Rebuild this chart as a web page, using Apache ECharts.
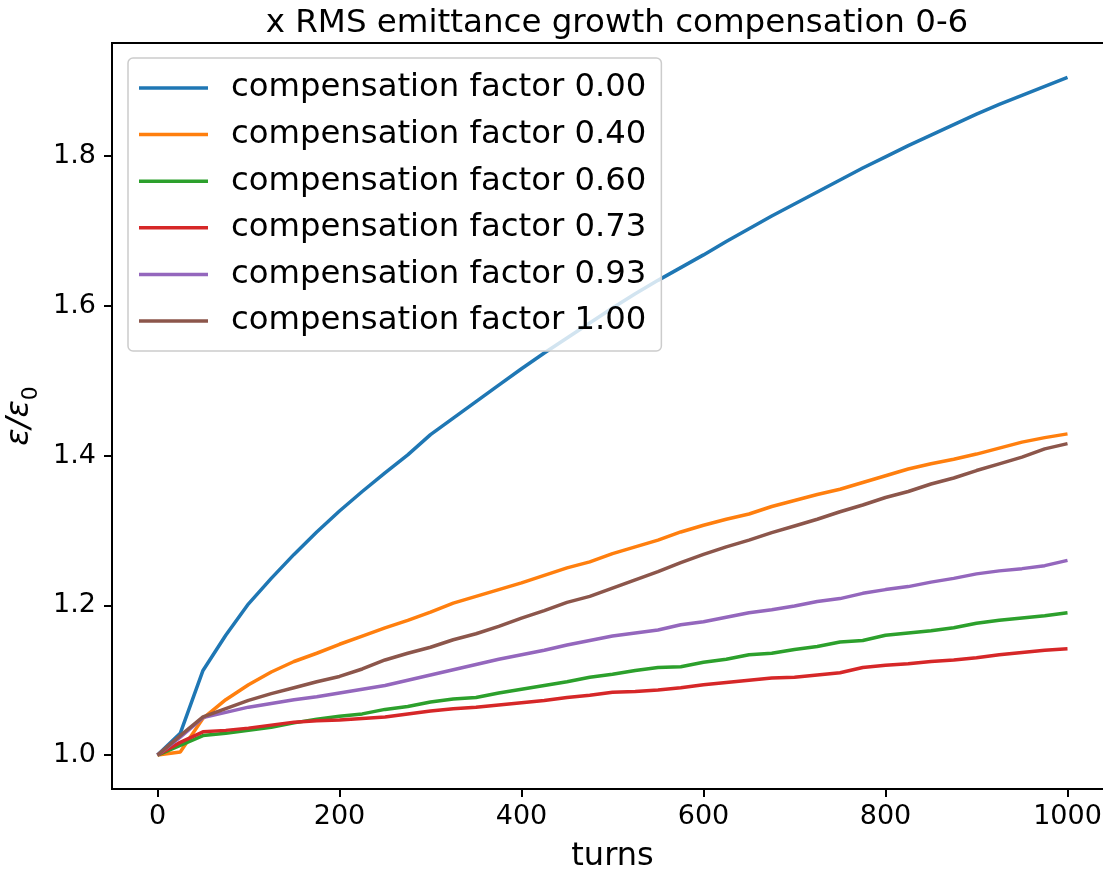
<!DOCTYPE html>
<html>
<head>
<meta charset="utf-8">
<script src="https://cdn.jsdelivr.net/npm/echarts@6/dist/echarts.min.js"></script>
<style>
html,body{margin:0;padding:0;background:#fff;}
#chart{width:1103px;height:870px;}
</style>
</head>
<body>
<div id="chart"></div>
<script>
const turns = [0,25,50,75,100,125,150,175,200,225,250,275,300,325,350,375,400,425,450,475,500,525,550,575,600,625,650,675,700,725,750,775,800,825,850,875,900,925,950,975,1000];
const comp000 = [1.000,1.029,1.113,1.160,1.202,1.236,1.268,1.298,1.326,1.352,1.377,1.401,1.428,1.450,1.472,1.494,1.516,1.537,1.557,1.577,1.597,1.616,1.634,1.651,1.668,1.686,1.703,1.720,1.736,1.752,1.768,1.784,1.799,1.814,1.828,1.842,1.856,1.869,1.881,1.893,1.905];
const comp040 = [1.000,1.004,1.049,1.074,1.094,1.111,1.125,1.136,1.148,1.159,1.170,1.180,1.191,1.203,1.212,1.221,1.230,1.240,1.250,1.258,1.269,1.278,1.287,1.298,1.307,1.315,1.322,1.332,1.340,1.348,1.355,1.364,1.373,1.382,1.389,1.395,1.402,1.410,1.418,1.424,1.429];
const comp060 = [1.000,1.013,1.026,1.029,1.033,1.037,1.043,1.048,1.052,1.055,1.061,1.065,1.071,1.075,1.077,1.083,1.088,1.093,1.098,1.104,1.108,1.113,1.117,1.118,1.124,1.128,1.134,1.136,1.141,1.145,1.151,1.153,1.160,1.163,1.166,1.170,1.176,1.180,1.183,1.186,1.190];
const comp073 = [1.000,1.017,1.031,1.033,1.036,1.040,1.044,1.046,1.047,1.049,1.051,1.055,1.059,1.062,1.064,1.067,1.070,1.073,1.077,1.080,1.084,1.085,1.087,1.090,1.094,1.097,1.100,1.103,1.104,1.107,1.110,1.117,1.120,1.122,1.125,1.127,1.130,1.134,1.137,1.140,1.142];
const comp093 = [1.000,1.024,1.050,1.057,1.064,1.069,1.074,1.078,1.083,1.088,1.093,1.100,1.107,1.114,1.121,1.128,1.134,1.140,1.147,1.153,1.159,1.163,1.167,1.174,1.178,1.184,1.190,1.194,1.199,1.205,1.209,1.216,1.221,1.225,1.231,1.236,1.242,1.246,1.249,1.253,1.260];
const comp100 = [1.000,1.026,1.051,1.062,1.073,1.082,1.090,1.098,1.105,1.115,1.127,1.136,1.144,1.154,1.162,1.172,1.183,1.193,1.204,1.212,1.223,1.234,1.245,1.257,1.268,1.278,1.287,1.297,1.306,1.315,1.325,1.334,1.344,1.352,1.362,1.370,1.380,1.389,1.398,1.409,1.416];
const seriesNames = ['compensation factor 0.00','compensation factor 0.40','compensation factor 0.60','compensation factor 0.73','compensation factor 0.93','compensation factor 1.00'];
const seriesValues = [comp000, comp040, comp060, comp073, comp093, comp100];
const colors = ['#1f77b4','#ff7f0e','#2ca02c','#d62728','#9467bd','#8c564b'];
const xTicks = [0,200,400,600,800,1000];
const yTicks = [1.0,1.2,1.4,1.6,1.8];
const titleText = 'x RMS emittance growth compensation 0-6';
const xLabel = 'turns';

const FONT = 'DejaVu Sans';
const chart = echarts.init(document.getElementById('chart'), null, {renderer:'canvas'});
const series = seriesNames.map((name, i) => ({
  name: name,
  type: 'line',
  data: turns.map((t, j) => [t, seriesValues[i][j]]),
  showSymbol: false,
  symbol: 'none',
  lineStyle: {width: 3.5, color: colors[i]},
  itemStyle: {color: colors[i]},
  emphasis: {disabled: true},
  animation: false,
  z: 2
}));
chart.setOption({
  animation: false,
  backgroundColor: '#fff',
  color: colors,
  textStyle: {fontFamily: FONT},
  title: {
    text: titleText,
    left: 612,
    textAlign: 'center',
    top: 2,
    textStyle: {fontFamily: FONT, fontSize: 32.5, fontWeight: 'normal', color: '#000'}
  },
  grid: {
    left: 112, width: 1001, top: 43, height: 746,
    outerBoundsMode: 'none',
    show: true, borderColor: '#000', borderWidth: 2, backgroundColor: 'transparent',
    containLabel: false
  },
  legend: {
    orient: 'vertical',
    left: 128, top: 58,
    padding: [10, 15, 10, 11],
    itemGap: 6.6,
    itemWidth: 69,
    itemHeight: 3.5,
    icon: 'rect',
    backgroundColor: 'rgba(255,255,255,0.8)',
    borderColor: '#cccccc',
    borderWidth: 1.5,
    borderRadius: 5,
    textStyle: {fontFamily: FONT, fontSize: 32.3, color: '#000', lineHeight: 40, padding: [0,0,0,18]},
    data: seriesNames
  },
  xAxis: {
    type: 'value',
    min: -50, max: 1050,
    name: xLabel,
    nameLocation: 'middle',
    nameGap: 52,
    nameTextStyle: {fontFamily: FONT, fontSize: 32, color: '#000'},
    axisLine: {show: true, onZero: false, lineStyle: {color: '#000', width: 2}},
    axisTick: {show: true, length: 8, lineStyle: {color: '#000', width: 2}, customValues: xTicks},
    axisLabel: {fontFamily: FONT, fontSize: 27, color: '#000', margin: 14, customValues: xTicks, formatter: v => String(Math.round(v))},
    splitLine: {show: false}
  },
  yAxis: {
    type: 'value',
    min: 0.9547, max: 1.951,
    name: '{e|ε/ε}{s|0}',
    nameLocation: 'middle',
    nameRotate: 90,
    nameGap: 70,
    nameTextStyle: {
      fontFamily: FONT, fontSize: 32, color: '#000',
      rich: {
        e: {fontFamily: FONT, fontSize: 32, fontStyle: 'italic', color: '#000'},
        s: {fontFamily: FONT, fontSize: 22, color: '#000', verticalAlign: 'bottom', padding: [0,0,-6,0]}
      }
    },
    axisLine: {show: true, onZero: false, lineStyle: {color: '#000', width: 2}},
    axisTick: {show: true, length: 8, lineStyle: {color: '#000', width: 2}, customValues: yTicks},
    axisLabel: {fontFamily: FONT, fontSize: 27, color: '#000', margin: 16, customValues: yTicks, formatter: v => Number(v).toFixed(1)},
    splitLine: {show: false}
  },
  series: series
});
</script>
</body>
</html>
